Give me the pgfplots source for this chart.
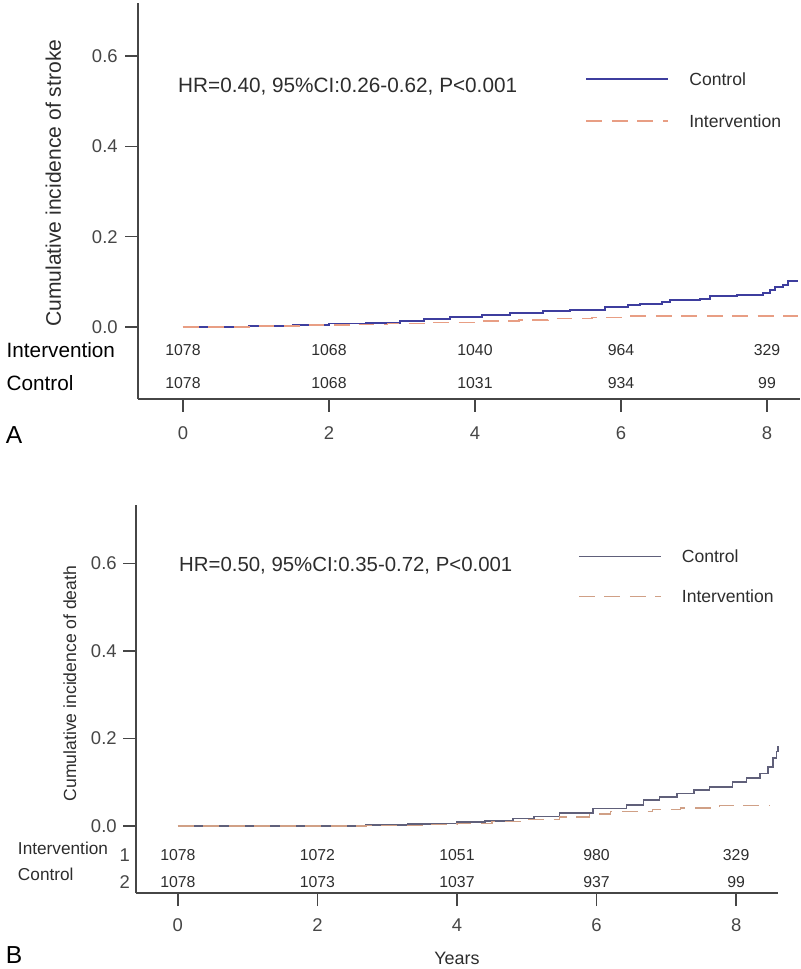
\documentclass[border=0pt]{standalone}
\usepackage{fontspec}
\setmainfont{Liberation Sans}
\usepackage{pgfplots}
\pgfplotsset{compat=1.18}

\definecolor{ctrlA}{RGB}{62,62,158}
\definecolor{intA}{RGB}{232,158,132}
\definecolor{ctrlB}{RGB}{96,96,122}
\definecolor{intB}{RGB}{208,160,134}
\definecolor{axgray}{RGB}{70,70,70}
\definecolor{txtgray}{RGB}{45,45,45}

\newcommand{\fs}[1]{\fontsize{#1}{#1}\selectfont}

\pgfplotsset{
  km/.style={
    scale only axis,
    clip=false,
    axis x line*=bottom,
    axis y line*=left,
    axis line style={axgray, line width=0.9pt, -},
    tick style={axgray, line width=0.8pt},
    tick align=outside,
    major tick length=2.6mm,
    xtick={0,2,4,6,8},
    ytick={0,0.2,0.4,0.6},
    /pgf/number format/assume math mode=true,
    yticklabel style={/pgf/number format/fixed,
      /pgf/number format/fixed zerofill,
      /pgf/number format/precision=1,
      font=\fs{10.5}, text=axgray, inner sep=0pt, anchor=east},
    xticklabel style={font=\fs{10.5}, text=axgray, inner sep=0pt, anchor=center},
    legend cell align=left,
    legend style={draw=none, fill=none, inner sep=0pt,
      font=\fs{10}, text=txtgray,
      nodes={inner sep=0pt, text height=7.2pt, text depth=0pt}},
    legend image code/.code={
      \draw[##1] (0mm,0mm) -- (16.4mm,0mm);
      \path[draw=none, fill=none] (0mm,-3.6pt) rectangle (20.6mm,3.6pt);},
  },
  risk/.style={only marks, mark=*, mark size=0pt,
    mark options={draw=none, fill=none}, forget plot,
    nodes near coords, point meta=explicit symbolic,
    every node near coord/.append style={anchor=center, font=\fs{9}, text=txtgray}},
}

\begin{document}
\begin{tikzpicture}
\path[use as bounding box] (0,0) rectangle (160mm,193.8mm);

% ---------- Panel A: stroke ----------
\begin{axis}[km,
  at={(27.6mm,114mm)}, anchor=south west,
  width=132.4mm, height=79.2mm,
  xmin=-0.616, xmax=8.452,
  ymin=-0.159, ymax=0.717,
  xticklabel style={yshift=-4.2mm},
  yticklabel style={xshift=-1.4mm},
  ylabel={Cumulative incidence of stroke},
  ylabel style={at={(axis description cs:-0.128,0.545)}, anchor=center, font=\fs{12}, text=txtgray},
  legend style={at={(axis cs:5.507,0.563)}, anchor=north west, row sep=16.7pt},
]
\addplot[const plot, color=ctrlA, line width=1.1pt] coordinates {
  (0,0) (0.55,0.001) (0.9,0.003) (1.5,0.005) (2.0,0.008) (2.5,0.010)
  (2.97,0.014) (3.3,0.018) (3.66,0.022) (4.1,0.027) (4.48,0.031)
  (4.93,0.035) (5.3,0.038) (5.78,0.044) (6.1,0.048) (6.26,0.051)
  (6.56,0.055) (6.67,0.060) (7.08,0.063) (7.22,0.068) (7.59,0.072)
  (7.95,0.076) (8.04,0.082) (8.11,0.089) (8.22,0.093) (8.29,0.102)
  (8.42,0.102)
};
\addlegendentry{Control}
\addplot[const plot, color=intA, line width=1.0pt, dash pattern=on 9pt off 5.5pt] coordinates {
  (0,0) (1.0,0.002) (1.7,0.004) (2.3,0.006) (2.8,0.008) (3.3,0.010)
  (4.1,0.013) (4.6,0.016) (5.0,0.019) (5.6,0.0215) (6.03,0.025)
  (8.42,0.025)
};
\addlegendentry{Intervention}

% numbers at risk
\addplot[risk] coordinates {
  (0,-0.051) [1078] (2,-0.051) [1068] (4,-0.051) [1040] (6,-0.051) [964] (8,-0.051) [329]
};
\addplot[risk] coordinates {
  (0,-0.124) [1078] (2,-0.124) [1068] (4,-0.124) [1031] (6,-0.124) [934] (8,-0.124) [99]
};

\node[anchor=west, font=\fs{11.8}, text=txtgray] at (axis cs:-0.15,0.531)
  {HR=0.40, 95\%CI:0.26-0.62, P<0.001};
\node[anchor=west, font=\fs{11.8}, text=black] at (axis cs:-2.5,-0.051) {Intervention};
\node[anchor=west, font=\fs{11.8}, text=black] at (axis cs:-2.5,-0.124) {Control};
\end{axis}

% ---------- Panel B: death ----------
\begin{axis}[km,
  at={(27.2mm,15.2mm)}, anchor=south west,
  width=128.4mm, height=77.6mm,
  xmin=-0.60, xmax=8.6,
  ymin=-0.153, ymax=0.733,
  xticklabel style={yshift=-3.8mm},
  yticklabel style={xshift=-1.2mm},
  ylabel={Cumulative incidence of death},
  ylabel style={at={(axis description cs:-0.103,0.54)}, anchor=center, font=\fs{10}, text=txtgray},
  xlabel={Years},
  xlabel style={at={(axis description cs:0.5,-0.1675)}, anchor=center, font=\fs{10.2}, text=txtgray},
  legend style={at={(axis cs:5.73,0.631)}, anchor=north west, row sep=15.6pt},
]
\addplot[const plot, color=ctrlB, line width=0.9pt] coordinates {
  (0,0) (2.7,0.002) (3.3,0.004) (3.7,0.006) (4.0,0.009) (4.4,0.012)
  (4.8,0.017) (5.1,0.022) (5.47,0.030) (5.95,0.040) (6.43,0.048)
  (6.67,0.060) (6.9,0.066) (7.15,0.074) (7.4,0.082) (7.62,0.089)
  (7.95,0.100) (8.15,0.110) (8.34,0.120) (8.46,0.135) (8.53,0.155)
  (8.58,0.170) (8.6,0.183)
};
\addlegendentry{Control}
\addplot[const plot, color=intB, line width=0.9pt, dash pattern=on 9pt off 5.5pt] coordinates {
  (0,0) (2.7,0.001) (3.5,0.003) (4.0,0.006) (4.5,0.010) (5.0,0.015)
  (5.47,0.021) (5.9,0.027) (6.2,0.033) (6.8,0.038) (7.2,0.041)
  (7.76,0.047) (8.48,0.047)
};
\addlegendentry{Intervention}

\addplot[risk] coordinates {
  (0,-0.066) [1078] (2,-0.066) [1072] (4,-0.066) [1051] (6,-0.066) [980] (8,-0.066) [329]
};
\addplot[risk] coordinates {
  (0,-0.128) [1078] (2,-0.128) [1073] (4,-0.128) [1037] (6,-0.128) [937] (8,-0.128) [99]
};

\node[anchor=west, font=\fs{11.6}, text=txtgray] at (axis cs:-0.07,0.594)
  {HR=0.50, 95\%CI:0.35-0.72, P<0.001};
\node[anchor=west, font=\fs{9.8}, text=txtgray] at (axis cs:-2.38,-0.050) {Intervention};
\node[anchor=west, font=\fs{9.8}, text=txtgray] at (axis cs:-2.38,-0.110) {Control};
\node[font=\fs{10.5}, text=axgray] at (axis cs:-0.76,-0.066) {1};
\node[font=\fs{10.5}, text=axgray] at (axis cs:-0.76,-0.128) {2};
\end{axis}

\node[font=\fs{14}] at (2.8mm,106.8mm) {A};
\node[font=\fs{14}] at (2.8mm,2.8mm) {B};
\end{tikzpicture}
\end{document}
